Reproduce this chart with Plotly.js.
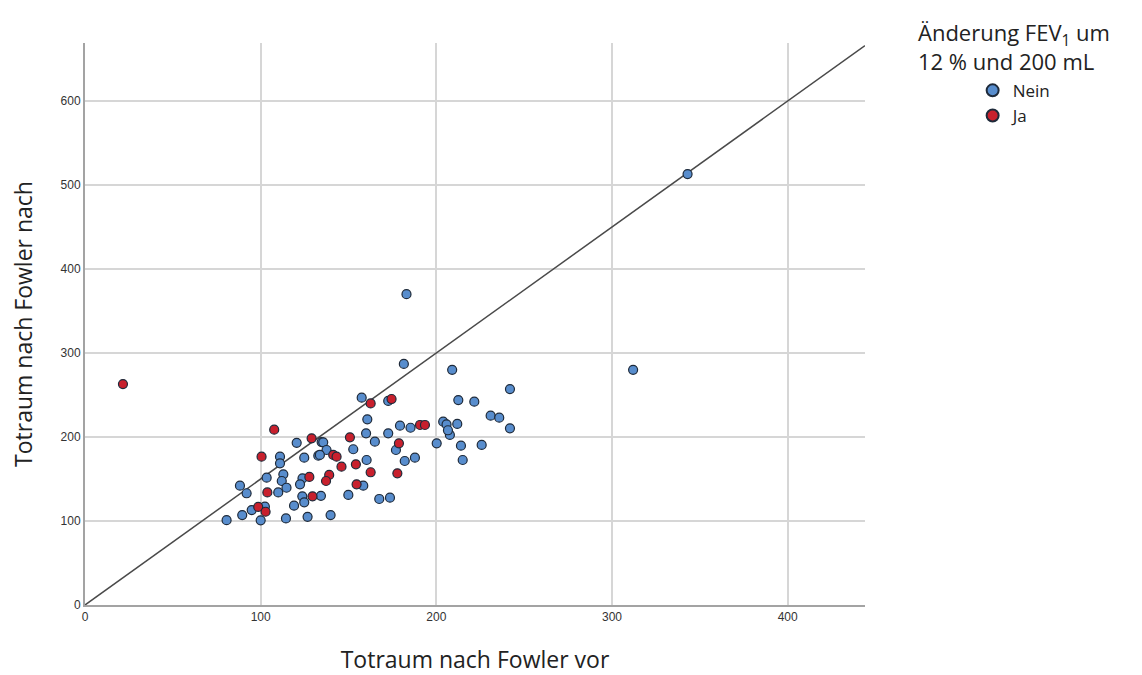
<!DOCTYPE html>
<html>
<head>
<meta charset="utf-8">
<script src="https://cdn.plot.ly/plotly-3.0.1.min.js"></script>
<style>html,body{margin:0;padding:0;background:#fff;}#chart{width:1142px;height:675px;}</style>
</head>
<body>
<div id="chart"></div>
<script>
// Gruppe "Nein" (blau)
const neinX = [343, 312, 183, 181.5, 209, 120.5, 134.7, 111, 111, 124.8, 132.8, 103.4, 112.9, 112, 123.8,
  88.2, 92, 110, 114.7, 122.4, 123.7, 134.3, 124.8, 119, 102.4, 94.9, 89.5, 80.6, 100, 114.4, 126.7,
  157.5, 172.6, 160.7, 179.3, 185.3, 160, 172.6, 165, 135.6, 137.5, 152.7, 133.7, 177, 187.8, 182, 160.3,
  149.9, 158.4, 167.5, 173.6, 139.8,
  241.9, 212.5, 221.6, 230.9, 235.8, 241.9, 203.9, 205.8, 211.9, 207.7, 206.6, 200.2, 214, 225.8, 215];
const neinY = [513, 280, 370, 287, 280, 193, 194, 176.6, 168.6, 175.4, 177.8, 151.6, 155.6, 147.6, 150.8,
  142, 133, 134, 139.6, 143.7, 129.4, 130, 122.2, 118.2, 117, 113, 107, 101, 100.8, 103, 105,
  246.8, 242.9, 221, 213.5, 211, 204.4, 204.4, 194.4, 193.7, 184.5, 185.4, 178.6, 184.5, 175.4, 171.4, 172.6,
  131, 142, 126.2, 127.7, 107,
  257, 244, 242, 225.4, 223, 210.3, 218.2, 215, 215.5, 202.4, 208, 192.5, 189.6, 190.5, 172.6];
// Gruppe "Ja" (rot)
const jaX = [21.6, 107.7, 129, 100.5, 127.7, 103.8, 129.5, 98.6, 102.8,
  162.6, 174.5, 190.7, 193.5, 150.8, 141.3, 143.2, 146, 178.7, 154.2, 162.6, 177.8, 139, 137.2, 154.6];
const jaY = [263, 208.7, 198.4, 176.6, 152.4, 134, 129.4, 116.7, 111,
  240, 245.2, 214.3, 214.3, 199.6, 178.6, 176.6, 164.7, 192.5, 167.5, 158, 156.8, 154.8, 147.6, 143.7];
// Referenzlinie
const refX = [0, 444];
const refY = [0, 666];
const xTicks = [0, 100, 200, 300, 400];
const yTicks = [0, 100, 200, 300, 400, 500, 600];

const mk = (c) => ({size: 9, color: c, line: {color: '#1e2a3a', width: 1.2}});
const data = [
  {x: refX, y: refY, mode: 'lines', line: {color: '#4a4a4a', width: 1.5}, showlegend: false, hoverinfo: 'skip'},
  {x: neinX, y: neinY, mode: 'markers', type: 'scatter', name: 'Nein', marker: mk('rgb(88,141,205)')},
  {x: jaX, y: jaY, mode: 'markers', type: 'scatter', name: 'Ja', marker: mk('rgb(200,32,45)')}
];
const axFont = {family: 'Arial, Liberation Sans, sans-serif', size: 12, color: '#333'};
const titleFont = {family: 'Open Sans, sans-serif', size: 23, color: '#222'};
const layout = {
  width: 1142, height: 675,
  margin: {l: 85, r: 277, t: 43, b: 70},
  paper_bgcolor: '#fff', plot_bgcolor: '#fff',
  font: {family: 'Open Sans, sans-serif', color: '#222'},
  xaxis: {range: [0, 444], tickvals: xTicks, ticktext: xTicks.map(String), showgrid: true, gridcolor: '#d6d6d6', gridwidth: 2,
    zeroline: false, showline: true, linecolor: '#a3a3a3', linewidth: 2, ticks: '', tickfont: axFont,
    title: {text: 'Totraum nach Fowler vor', font: titleFont, standoff: 28}},
  yaxis: {range: [0, 669], tickvals: yTicks, ticktext: yTicks.map(String), showgrid: true, gridcolor: '#d6d6d6', gridwidth: 2,
    zeroline: false, showline: true, linecolor: '#a3a3a3', linewidth: 2, ticks: '', tickfont: axFont,
    title: {text: 'Totraum nach Fowler nach', font: titleFont, standoff: 22}},
  showlegend: true,
  legend: {x: 1.138, y: 0.947, xanchor: 'left', yanchor: 'top', font: {family: 'Open Sans, sans-serif', size: 17, color: '#222'},
    itemsizing: 'constant', tracegroupgap: 0, bgcolor: 'rgba(0,0,0,0)'},
  annotations: [{xref: 'paper', yref: 'paper', x: 1.066, y: 1.05, xanchor: 'left', yanchor: 'top', align: 'left', showarrow: false,
    text: 'Änderung FEV<sub><span style="color:#222">1</span></sub> um<br>12 % und 200 mL', font: {family: 'Open Sans, sans-serif', size: 22, color: '#222'}}]
};
Plotly.newPlot('chart', data, layout, {displayModeBar: false});
</script>
</body>
</html>
